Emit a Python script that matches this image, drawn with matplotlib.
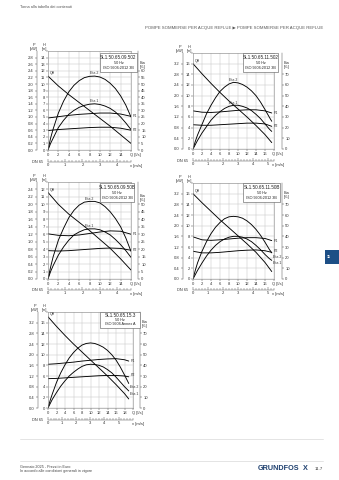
import matplotlib
matplotlib.use("Agg")
import matplotlib.pyplot as plt
from matplotlib.patches import Rectangle
from matplotlib.lines import Line2D
from matplotlib.ticker import MultipleLocator

plt.rcParams['font.family'] = ['Liberation Sans', 'DejaVu Sans']

W, H = 339, 480
DN65_AREA = 3.318          # l/s per m/s of flow velocity in a DN 65 pipe
TXT = '#333333'
GRID = '#c4c4c4'

# ---------------- SL1.50.65.09.502 ----------------
q_a_eta = [0, 0.5, 1, 2, 3, 4, 5, 6, 7, 8, 9, 10, 11, 12, 13, 14, 15, 16]
eta2_a = [0, 9, 16, 28, 37, 44, 49, 52.5, 54.8, 55.8, 56, 55.3, 53.5, 50.5, 46.5, 41, 34, 25]
eta1_a = [0, 5, 9, 17, 22.5, 27, 30, 32.3, 33.8, 34.7, 35, 34.5, 33.3, 31.5, 28.8, 25, 20.5, 15.5]
q_a = [0, 2, 4, 6, 8, 10, 12, 14, 16]
qh_a = [11.2, 9.7, 8.4, 7.2, 6.0, 4.8, 3.6, 2.3, 1.0]
p1_a = [0.97, 1.01, 1.05, 1.08, 1.10, 1.12, 1.12, 1.09, 1.02]
p2_a = [0.59, 0.62, 0.64, 0.66, 0.68, 0.69, 0.69, 0.66, 0.60]

# ---------------- SL1.50.65.11.502 ----------------
q_b_eta = [0, 0.5, 1, 2, 3, 4, 5, 6, 7, 8, 9, 10, 11, 12, 13, 14, 15, 16, 17, 17.5]
eta2_b = [0, 7, 13, 23, 33, 41, 48, 54, 58, 61, 62.5, 62, 60.5, 58, 54.5, 50, 44, 37, 29.5, 26]
eta1_b = [0, 4, 8, 15, 21, 27, 31.5, 35, 38, 40, 41, 41, 40, 38.5, 36, 32.5, 28.5, 23.5, 18.5, 16.5]
q_b = [0, 2, 4, 6, 8, 10, 12, 14, 16, 17.5]
qh_b = [16.0, 14.1, 12.3, 10.6, 9.0, 7.5, 6.0, 4.4, 2.7, 1.2]
p1_b = [1.43, 1.38, 1.37, 1.39, 1.42, 1.45, 1.47, 1.47, 1.43, 1.35]
p2_b = [0.91, 0.89, 0.89, 0.91, 0.93, 0.95, 0.97, 0.97, 0.94, 0.85]

# ---------------- SL1.50.65.09.50B ----------------
q_c_eta = [0, 0.5, 1, 2, 3, 4, 5, 6, 7, 8, 9, 10, 11, 12, 13, 14, 15, 16]
eta2_c = [0, 8, 15, 26, 34, 41, 46, 49.5, 51.5, 52, 52, 51, 48.5, 45, 40.5, 35, 27.5, 18.5]
eta1_c = [0, 5, 9, 16, 21.5, 26, 29.5, 31.5, 33, 33.6, 33.6, 33, 31.5, 29.5, 26.5, 23, 19, 14.5]
q_c = [0, 1, 2, 4, 6, 8, 10, 12, 14, 16]
qh_c = [11.6, 10.8, 10.0, 8.7, 7.6, 6.5, 5.3, 4.1, 2.7, 1.2]
p1_c = [1.21, 1.19, 1.17, 1.16, 1.18, 1.22, 1.26, 1.29, 1.28, 1.20]
p2_c = [0.76, 0.755, 0.75, 0.76, 0.78, 0.80, 0.82, 0.83, 0.82, 0.77]

# ---------------- SL1.50.65.11.50B ----------------
q_d_eta = [0, 0.5, 1, 2, 3, 4, 5, 6, 7, 8, 9, 10, 11, 12, 13, 14, 15, 16, 17, 17.5]
eta2_d = [0, 8, 15, 26, 35, 42.5, 48.5, 53, 56.5, 58.3, 58.75, 58.3, 57, 54.5, 51, 46.5, 41, 34.5, 27.5, 24.5]
eta1_d = [0, 4, 8, 15, 21.5, 27, 31.5, 35, 37.5, 39.2, 40, 40, 39.2, 37.5, 35, 31.5, 27.5, 23, 19, 17.5]
q_d = [0, 2, 4, 6, 8, 10, 12, 14, 16, 17.5]
qh_d = [16.0, 14.3, 12.7, 11.1, 9.6, 8.1, 6.6, 5.0, 3.1, 1.4]
p1_d = [1.58, 1.47, 1.45, 1.47, 1.50, 1.53, 1.55, 1.55, 1.52, 1.44]
p2_d = [1.04, 0.98, 0.98, 1.00, 1.03, 1.06, 1.08, 1.09, 1.06, 1.00]

# ---------------- SL1.50.65.15.3 ----------------
q_e_eta = [0, 0.5, 1, 2, 3, 4, 5, 6, 7, 8, 9, 10, 11, 12, 13, 14, 15, 16, 17, 18, 19]
eta2_e = [0, 7, 13, 24, 33, 40.5, 47, 52, 56, 59, 60.5, 61, 60.5, 59, 57, 54, 50, 45, 38.5, 31, 23]
eta1_e = [0, 4, 8, 14.5, 20.5, 25.5, 30, 33.5, 36.5, 39, 40.5, 41, 40.8, 40, 38.5, 36, 33, 29, 24.5, 20, 16]
q_e = [0, 1, 2, 4, 6, 8, 10, 12, 14, 16, 18, 19]
qh_e = [17.1, 16.2, 15.3, 13.6, 12.0, 10.5, 9.0, 7.5, 6.0, 4.4, 2.7, 1.7]
p1_e = [1.64, 1.65, 1.66, 1.69, 1.72, 1.76, 1.79, 1.82, 1.84, 1.85, 1.81, 1.76]
p2_e = [1.10, 1.105, 1.11, 1.13, 1.15, 1.17, 1.19, 1.21, 1.22, 1.22, 1.20, 1.17]

titles = ["SL1.50.65.09.502", "SL1.50.65.11.502", "SL1.50.65.09.50B",
          "SL1.50.65.11.50B", "SL1.50.65.15.3"]
standards = ["ISO 9906:2012 3B", "ISO 9906:2012 3B", "ISO 9906:2012 3B",
             "ISO 9906:2012 3B", "ISO 9906 Annex A"]

fig = plt.figure(figsize=(W / 100, H / 100), dpi=100)
fig.patch.set_facecolor('white')


def fx(x):
    return x / W


def fy(y):
    return 1 - y / H


def ftext(x, y, s, size=3.0, **kw):
    kw.setdefault('color', TXT)
    fig.text(fx(x), fy(y), s, fontsize=size, **kw)


def side_axis(x, top, bottom, lim, ticks, labels, side):
    a = fig.add_axes([fx(x), fy(bottom), 0.0001, (bottom - top) / H])
    a.patch.set_visible(False)
    a.set_ylim(*lim)
    a.set_xticks([])
    for s in a.spines.values():
        s.set_visible(False)
    a.spines[side].set_visible(True)
    a.spines[side].set_linewidth(0.35)
    a.spines[side].set_color('#555555')
    a.yaxis.set_ticks_position(side)
    a.yaxis.set_label_position(side)
    a.set_yticks(ticks)
    a.set_yticklabels(labels)
    a.tick_params(axis='y', labelsize=3, length=1.5, width=0.3, pad=0.8,
                  colors=TXT)
    return a


def panel(grid, qmax, hmax, hstep, hlab, pstep, eta_max, eta_step,
          p_x, eta_x, v_y, box, title, std,
          q, qh, p1, p2, q_eta, eta1, eta2, eta_at_end):
    x0, y0, x1, y1 = grid
    ax = fig.add_axes([fx(x0), fy(y1), (x1 - x0) / W, (y1 - y0) / H])
    ax.set_xlim(0, qmax)
    ax.set_ylim(0, hmax)
    xt = list(range(0, qmax + 1, 2))
    ax.set_xticks(xt)
    ax.set_xticklabels([str(v) for v in xt[:-1]] + [''])
    yt = list(range(0, hmax + 1, hstep))
    ax.set_yticks(yt)
    ax.set_yticklabels([str(v) if v <= hlab else '' for v in yt])
    ax.tick_params(labelsize=3, length=1.5, width=0.3, pad=0.8, colors=TXT)
    ax.grid(True, color=GRID, lw=0.35)
    ax.set_axisbelow(True)
    for s in ax.spines.values():
        s.set_linewidth(0.4)
        s.set_color('#8a8a8a')

    lk = dict(color='black', lw=0.65, solid_capstyle='round')
    ax.plot(q, qh, **lk)
    ax.plot(q, [v * 5 for v in p1], **lk)
    ax.plot(q, [v * 5 for v in p2], **lk)
    ax.plot(q_eta, [v / 5 for v in eta2], **lk)
    ax.plot(q_eta, [v / 5 for v in eta1], **lk)

    lab = dict(fontsize=2.6, color=TXT, clip_on=False)
    ax.text(q[0] + 0.45, qh[0] + 0.1, 'QH', ha='left', va='bottom', **lab)
    qe = q[-1] + 0.35
    ax.text(qe, p1[-1] * 5, 'P1', ha='left', va='center', **lab)
    if eta_at_end:
        ax.text(qe, p2[-1] * 5 + 0.25, 'P2', ha='left', va='center', **lab)
        ax.text(qe, eta2[-1] / 5 - 0.75, 'Eta 2', ha='left', va='center', **lab)
        ax.text(qe, eta1[-1] / 5 - 0.55, 'Eta 1', ha='left', va='center', **lab)
    else:
        ax.text(qe, p2[-1] * 5, 'P2', ha='left', va='center', **lab)
        i2 = eta2.index(max(eta2))
        i1 = eta1.index(max(eta1))
        ax.text(q_eta[i2], eta2[i2] / 5 + 0.1, 'Eta 2', ha='center', va='bottom', **lab)
        ax.text(q_eta[i1], eta1[i1] / 5 + 0.1, 'Eta 1', ha='center', va='bottom', **lab)

    # power axis (kW) and efficiency axis (%)
    pt = [i * pstep for i in range(int(round(hlab / 5 / pstep)) + 1)]
    side_axis(p_x, y0, y1, (0, hmax / 5), pt, ['%.1f' % v for v in pt], 'left')
    et = list(range(0, eta_max + 1, eta_step))
    side_axis(eta_x, y0, y1, (0, hmax * 5), et, [str(v) for v in et], 'right')

    # axis captions
    ftext(x1 - 1.5, y1 + 5.2, 'Q [l/s]', ha='left', va='center')
    ftext(p_x - 3.5, y0 - 0.2, 'P\n[kW]', ha='center', va='bottom', size=2.8,
          linespacing=0.95)
    ftext(x0 - 3.5, y0 - 0.2, 'H\n[m]', ha='center', va='bottom', size=2.8,
          linespacing=0.95)
    eta_y = y1 - (y1 - y0) * (eta_max + eta_step * 0.9) / (hmax * 5)
    ftext(eta_x + 1.5, eta_y, 'Eta\n[%]', ha='left', va='center', size=2.8,
          linespacing=0.95)

    # flow velocity axis for a DN 65 pipe
    av = fig.add_axes([fx(x0), fy(v_y), (x1 - x0) / W, 0.0001])
    av.patch.set_visible(False)
    av.set_xlim(0, qmax / DN65_AREA)
    av.set_yticks([])
    for s in av.spines.values():
        s.set_visible(False)
    av.spines['bottom'].set_visible(True)
    av.spines['bottom'].set_linewidth(0.35)
    av.spines['bottom'].set_color('#555555')
    vmax = int(qmax / DN65_AREA - 0.15)
    av.set_xticks(list(range(0, vmax + 1)))
    av.xaxis.set_minor_locator(MultipleLocator(0.2))
    av.tick_params(axis='x', which='major', direction='in', labelsize=3,
                   length=2, width=0.3, pad=1.0, colors=TXT)
    av.tick_params(axis='x', which='minor', direction='in', length=1.1,
                   width=0.25, colors=TXT)
    ftext(x1 - 1.5, v_y + 4.2, 'v [m/s]', ha='left', va='center')
    ftext(x0 - 5, v_y, 'DN 65', ha='right', va='center', size=2.8)

    # model box
    bx0, by0, bx1, by1 = box
    fig.add_artist(Rectangle((fx(bx0), fy(by1)), (bx1 - bx0) / W, (by1 - by0) / H,
                             transform=fig.transFigure, facecolor='white',
                             edgecolor='#555555', lw=0.4, zorder=5))
    cx = (bx0 + bx1) / 2
    hgt = by1 - by0
    fig.text(fx(cx), fy(by0 + hgt * 0.24), title, fontsize=3.3, ha='center',
             va='center', color='#222222', zorder=6)
    fig.text(fx(cx), fy(by0 + hgt * 0.52), '50 Hz', fontsize=2.7, ha='center',
             va='center', color='#222222', zorder=6)
    fig.text(fx(cx), fy(by0 + hgt * 0.78), std, fontsize=2.7, ha='center',
             va='center', color='#222222', zorder=6)


panel((48, 51, 131, 150), 16, 15, 1, 14, 0.2, 60, 5, 37, 138, 162,
      (100, 53, 137, 72), titles[0], standards[0],
      q_a, qh_a, p1_a, p2_a, q_a_eta, eta1_a, eta2_a, False)
panel((193, 53, 274, 149), 18, 18, 2, 16, 0.4, 70, 10, 183, 282, 161,
      (243, 53, 278, 72), titles[1], standards[1],
      q_b, qh_b, p1_b, p2_b, q_b_eta, eta1_b, eta2_b, False)
panel((48, 182, 131, 279), 16, 13, 1, 12, 0.2, 50, 5, 37, 138, 290,
      (100, 183, 134, 202), titles[2], standards[2],
      q_c, qh_c, p1_c, p2_c, q_c_eta, eta1_c, eta2_c, False)
panel((193, 183, 274, 279), 18, 18, 2, 16, 0.4, 70, 10, 183, 282, 290,
      (243, 183, 280, 202), titles[3], standards[3],
      q_d, qh_d, p1_d, p2_d, q_d_eta, eta1_d, eta2_d, True)
panel((48, 312, 133, 408), 20, 18, 2, 16, 0.4, 70, 10, 38, 140, 420,
      (100, 312, 140, 328), titles[4], standards[4],
      q_e, qh_e, p1_e, p2_e, q_e_eta, eta1_e, eta2_e, True)

# page header
ftext(20, 7.5, 'Torna alla tabella dei contenuti', size=2.8, ha='left',
      va='center', color='#555555')
ftext(323, 28, 'POMPE SOMMERSE PER ACQUE REFLUE \u25B6 POMPE SOMMERSE PER ACQUE REFLUE',
      size=3.1, ha='right', va='center', color='#555555')

# section tab
fig.add_artist(Rectangle((fx(325), fy(264)), 14 / W, 14 / H,
                         transform=fig.transFigure, facecolor='#1d4f86',
                         edgecolor='none'))
ftext(329, 257, '11', size=2.8, ha='center', va='center', color='white',
      weight='bold')

# page footer
for yl in (439, 461):
    fig.add_artist(Line2D([fx(20), fx(323)], [fy(yl), fy(yl)],
                          transform=fig.transFigure, color='#d0d0d0', lw=0.4))
ftext(20, 466.5, 'Gennaio 2025 - Prezzi in Euro', size=2.7, ha='left',
      va='center', color='#444444')
ftext(20, 471, 'In accordo alle condizioni generali in vigore', size=2.7,
      ha='left', va='center', color='#444444')
ftext(299, 469, 'GRUNDFOS', size=5.2, ha='right', va='center',
      color='#1d3f6e', weight='bold')
ftext(305, 468.3, 'X', size=5.2, ha='center', va='center', color='#1d3f6e',
      weight='bold')
ftext(323, 469, '11.7', size=3.2, ha='right', va='center', color='#333333')

fig.savefig('out.png', dpi=100, facecolor='white')
